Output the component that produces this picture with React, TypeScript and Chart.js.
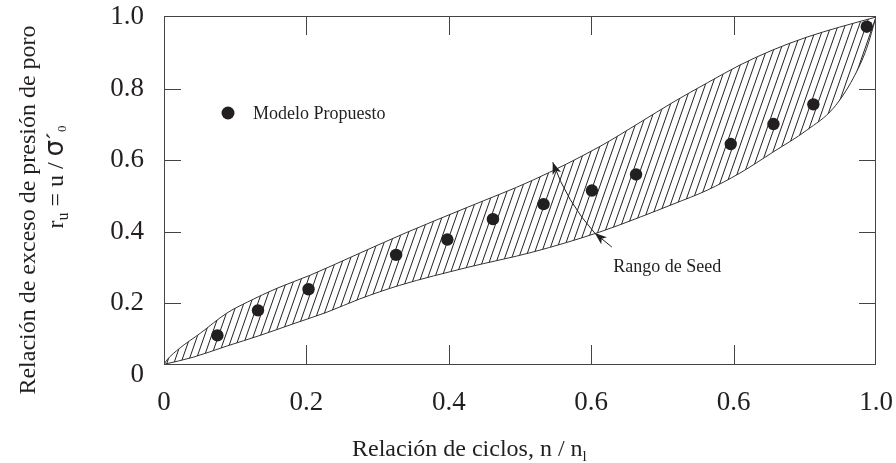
import React, { useEffect, useRef } from 'react';
import { Chart, registerables } from 'chart.js';

Chart.register(...registerables);

// ---------- data ----------
const xTickValues = [0, 0.2, 0.4, 0.6, 0.8, 1.0];
const xTickLabels = ['0', '0.2', '0.4', '0.6', '0.6', '1.0'];
const yTickValues = [0, 0.2, 0.4, 0.6, 0.8, 1.0];
const yTickLabels = ['0', '0.2', '0.4', '0.6', '0.8', '1.0'];

// Upper boundary of Seed's range
const upperX = [0, 0.004, 0.022, 0.051, 0.088, 0.117, 0.159, 0.205, 0.275, 0.341, 0.426, 0.518, 0.612, 0.669, 0.715, 0.763, 0.809, 0.855, 0.903, 0.949, 1.0];
const upperY = [0.029, 0.041, 0.074, 0.116, 0.172, 0.203, 0.242, 0.278, 0.34, 0.398, 0.468, 0.544, 0.638, 0.706, 0.762, 0.816, 0.866, 0.908, 0.944, 0.972, 1.0];

// Lower boundary of Seed's range
const lowerX = [0, 0.041, 0.088, 0.135, 0.181, 0.229, 0.275, 0.331, 0.426, 0.518, 0.612, 0.669, 0.715, 0.763, 0.809, 0.855, 0.903, 0.94, 0.968, 0.987, 1.0];
const lowerY = [0.029, 0.049, 0.08, 0.11, 0.142, 0.175, 0.212, 0.25, 0.3, 0.343, 0.399, 0.441, 0.477, 0.516, 0.564, 0.622, 0.684, 0.745, 0.829, 0.913, 1.0];

// Modelo Propuesto
const modelX = [0.075, 0.132, 0.203, 0.326, 0.398, 0.462, 0.533, 0.601, 0.663, 0.796, 0.856, 0.912, 0.987];
const modelY = [0.11, 0.18, 0.239, 0.335, 0.378, 0.435, 0.477, 0.515, 0.56, 0.645, 0.701, 0.756, 0.973];

const seriesName = 'Modelo Propuesto';
const rangeLabel = 'Rango de Seed';
const xTitle = 'Relación de ciclos, n / n';
const xTitleSub = 'l';
const yTitle1 = 'Relación de exceso de presión de poro';

// annotation anchors (data units)
const rangeTail = { x: 0.629, y: 0.357 };
const rangeLowTip = { x: 0.605, y: 0.396 };
const rangeUpTip = { x: 0.546, y: 0.594 };
const rangeText = { x: 0.631, y: 0.301 };

const FONT = '"Liberation Serif", "Times New Roman", Times, serif';
const INK = '#231f20';

type Part = { t: string; size: number; dy?: number; family?: string };

function richWidth(ctx: CanvasRenderingContext2D, parts: Part[]) {
  let w = 0;
  for (const p of parts) {
    ctx.font = `${p.size}px ${p.family || FONT}`;
    w += ctx.measureText(p.t).width;
  }
  return w;
}
function drawRich(ctx: CanvasRenderingContext2D, parts: Part[], x: number, y: number) {
  let cx = x;
  for (const p of parts) {
    ctx.font = `${p.size}px ${p.family || FONT}`;
    ctx.fillText(p.t, cx, y + (p.dy || 0));
    cx += ctx.measureText(p.t).width;
  }
}
function arrowHead(ctx: CanvasRenderingContext2D, tx: number, ty: number, fx: number, fy: number) {
  const ang = Math.atan2(ty - fy, tx - fx);
  const len = 12;
  const hw = 4.5;
  ctx.beginPath();
  ctx.moveTo(tx, ty);
  ctx.lineTo(tx - len * Math.cos(ang) + hw * Math.sin(ang), ty - len * Math.sin(ang) - hw * Math.cos(ang));
  ctx.lineTo(tx - len * 0.75 * Math.cos(ang), ty - len * 0.75 * Math.sin(ang));
  ctx.lineTo(tx - len * Math.cos(ang) - hw * Math.sin(ang), ty - len * Math.sin(ang) + hw * Math.cos(ang));
  ctx.closePath();
  ctx.fill();
}

const decor = {
  id: 'decor',
  afterDraw(chart: any) {
    const { ctx, chartArea: a, scales } = chart;
    const x = scales.x;
    const y = scales.y;
    ctx.save();
    // frame
    ctx.strokeStyle = '#444';
    ctx.lineWidth = 1;
    ctx.strokeRect(a.left + 0.5, a.top + 0.5, a.right - a.left - 1, a.bottom - a.top);
    // inward ticks
    ctx.beginPath();
    x.ticks.forEach((t: any, i: number) => {
      if (i === 0 || i === x.ticks.length - 1) return;
      const px = Math.round(x.getPixelForValue(t.value)) + 0.5;
      ctx.moveTo(px, a.bottom);
      ctx.lineTo(px, a.bottom - 19);
      ctx.moveTo(px, a.top);
      ctx.lineTo(px, a.top + 19);
    });
    y.ticks.forEach((t: any, i: number) => {
      if (i === 0 || i === y.ticks.length - 1) return;
      const py = Math.round(y.getPixelForValue(t.value)) + 0.5;
      ctx.moveTo(a.left, py);
      ctx.lineTo(a.left + 17, py);
      ctx.moveTo(a.right, py);
      ctx.lineTo(a.right - 17, py);
    });
    ctx.stroke();

    // legend
    ctx.fillStyle = INK;
    ctx.beginPath();
    ctx.arc(a.left + 64, a.top + 97, 6.5, 0, Math.PI * 2);
    ctx.fill();
    ctx.font = `18px ${FONT}`;
    ctx.textBaseline = 'middle';
    ctx.textAlign = 'left';
    ctx.fillText(seriesName, a.left + 89, a.top + 98);

    // Rango de Seed annotation
    const tx = x.getPixelForValue(rangeTail.x), ty = y.getPixelForValue(rangeTail.y);
    const lx = x.getPixelForValue(rangeLowTip.x), ly = y.getPixelForValue(rangeLowTip.y);
    const ux = x.getPixelForValue(rangeUpTip.x), uy = y.getPixelForValue(rangeUpTip.y);
    ctx.strokeStyle = INK;
    ctx.lineWidth = 1;
    ctx.beginPath();
    ctx.moveTo(tx, ty);
    ctx.lineTo(lx, ly);
    ctx.stroke();
    arrowHead(ctx, lx, ly, tx, ty);
    const mx = (lx + ux) / 2, my = (ly + uy) / 2;
    const dx = ux - lx, dy = uy - ly;
    const dl = Math.hypot(dx, dy);
    const cx = mx + (-dy / dl) * -8, cy = my + (dx / dl) * -8;
    ctx.beginPath();
    ctx.moveTo(lx, ly);
    ctx.quadraticCurveTo(cx, cy, ux, uy);
    ctx.stroke();
    arrowHead(ctx, ux, uy, cx, cy);
    ctx.font = `18px ${FONT}`;
    ctx.textBaseline = 'middle';
    ctx.fillText(rangeLabel, x.getPixelForValue(rangeText.x), y.getPixelForValue(rangeText.y));

    // x title
    ctx.textBaseline = 'alphabetic';
    ctx.textAlign = 'left';
    const xParts: Part[] = [
      { t: xTitle, size: 24 },
      { t: xTitleSub, size: 15, dy: 5 },
    ];
    drawRich(ctx, xParts, a.left + 188, a.bottom + 92);

    // y title (two lines, rotated)
    const midY = (a.top + a.bottom) / 2;
    ctx.save();
    ctx.translate(35, midY + 20);
    ctx.rotate(-Math.PI / 2);
    ctx.font = `24px ${FONT}`;
    ctx.textAlign = 'center';
    ctx.fillText(yTitle1, 0, 0);
    ctx.restore();

    const yParts: Part[] = [
      { t: 'r', size: 24 },
      { t: 'u', size: 16, dy: 5 },
      { t: ' = u / ', size: 24 },
      { t: 'σ', size: 26, family: '"DejaVu Sans", sans-serif' },
      { t: '´', size: 24 },
      { t: '0', size: 13, dy: 3 },
    ];
    ctx.save();
    ctx.translate(63, midY - 13);
    ctx.rotate(-Math.PI / 2);
    ctx.textAlign = 'left';
    const w = richWidth(ctx, yParts);
    drawRich(ctx, yParts, -w / 2, 0);
    ctx.restore();

    ctx.restore();
  },
};

export default function App() {
  const ref = useRef<HTMLCanvasElement | null>(null);
  useEffect(() => {
    const canvas = ref.current;
    if (!canvas) return;
    const tile = document.createElement('canvas');
    tile.width = 7;
    tile.height = 20;
    const tc = tile.getContext('2d')!;
    tc.strokeStyle = '#222';
    tc.lineWidth = 1;
    tc.beginPath();
    for (const k of [-1, 0, 1]) {
      tc.moveTo(k * 7, 20);
      tc.lineTo(k * 7 + 7, 0);
    }
    tc.stroke();
    const pattern = tc.createPattern(tile, 'repeat');

    const tickFont = { family: FONT, size: 27, lineHeight: 1 };
    const chart = new Chart(canvas, {
      type: 'line',
      data: {
        datasets: [
          {
            label: 'Rango de Seed (superior)',
            data: upperX.map((v, i) => ({ x: v, y: upperY[i] })),
            borderColor: '#333',
            borderWidth: 1,
            pointRadius: 0,
            cubicInterpolationMode: 'monotone',
            fill: { target: 1 },
            backgroundColor: pattern as any,
          },
          {
            label: 'Rango de Seed (inferior)',
            data: lowerX.map((v, i) => ({ x: v, y: lowerY[i] })),
            borderColor: '#333',
            borderWidth: 1,
            pointRadius: 0,
            cubicInterpolationMode: 'monotone',
            fill: false,
          },
          {
            label: seriesName,
            data: modelX.map((v, i) => ({ x: v, y: modelY[i] })),
            showLine: false,
            pointRadius: 6.2,
            pointBackgroundColor: INK,
            pointBorderColor: INK,
            pointBorderWidth: 0,
          },
        ],
      } as any,
      options: {
        animation: false,
        responsive: true,
        maintainAspectRatio: false,
        events: [],
        layout: { padding: { left: 0, right: 20, top: 16, bottom: 0 } },
        plugins: { legend: { display: false }, tooltip: { enabled: false } },
        scales: {
          x: {
            type: 'linear',
            min: 0,
            max: 1,
            afterBuildTicks: (s: any) => {
              s.ticks = xTickValues.map((v) => ({ value: v }));
            },
            afterFit: (s: any) => {
              s.height = 99;
              s.paddingLeft = 0;
              s.paddingRight = 0;
              s.paddingTop = 0;
              s.paddingBottom = 0;
            },
            grid: { display: false, drawTicks: false },
            border: { display: false },
            ticks: {
              autoSkip: false,
              maxRotation: 0,
              padding: 25,
              color: INK,
              font: tickFont,
              callback: (_v: any, i: number) => xTickLabels[i],
            },
          },
          y: {
            type: 'linear',
            min: 0.03,
            max: 1.003,
            afterBuildTicks: (s: any) => {
              s.ticks = yTickValues.map((v) => ({ value: v }));
            },
            afterFit: (s: any) => {
              s.width = 164;
              s.paddingLeft = 0;
              s.paddingRight = 0;
              s.paddingTop = 0;
              s.paddingBottom = 0;
            },
            grid: { display: false, drawTicks: false },
            border: { display: false },
            ticks: {
              autoSkip: false,
              padding: 20,
              color: INK,
              font: tickFont,
              callback: (_v: any, i: number) => yTickLabels[i],
            },
          },
        },
      } as any,
      plugins: [decor],
    });
    return () => chart.destroy();
  }, []);

  return (
    <div style={{ position: 'absolute', left: 0, top: 0, width: 896, height: 463, background: '#fff' }}>
      <canvas ref={ref} />
    </div>
  );
}
